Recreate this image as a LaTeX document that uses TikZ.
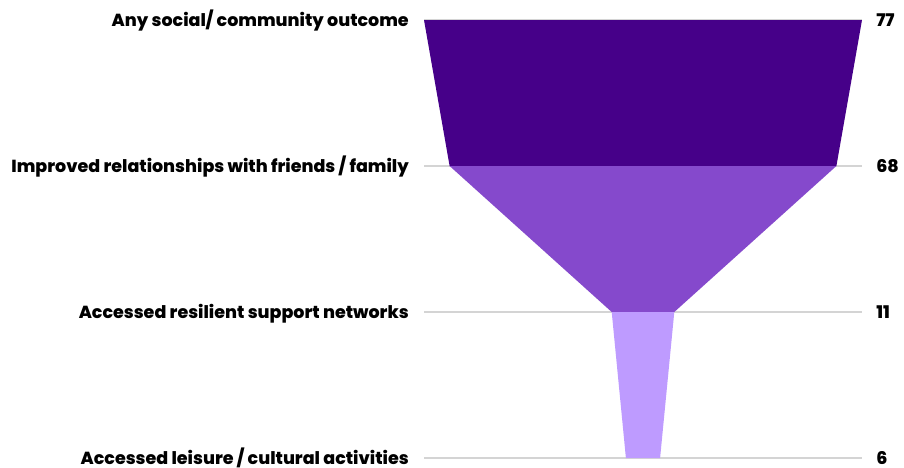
\documentclass[tikz,border=0pt]{standalone}
\usepackage{fontspec}
\setmainfont{Poppins}[BoldFont={Poppins ExtraBold}]
\definecolor{stageA}{RGB}{70,0,137}
\definecolor{stageB}{RGB}{133,73,204}
\definecolor{stageC}{RGB}{190,155,255}
\definecolor{gridgray}{RGB}{212,212,212}
\tikzset{
  lbl/.style={font=\fontsize{13.1}{15}\selectfont\bfseries,anchor=base east,inner sep=0pt},
  val/.style={font=\fontsize{13.1}{15}\selectfont\bfseries,anchor=base west,inner sep=0pt}
}
\begin{document}
\begin{tikzpicture}[x=0.75pt,y=-0.75pt]
\useasboundingbox (0,0) rectangle (904,468);
\foreach \y in {20,166,312,458} % grid lines under the funnel
\draw[gridgray,line width=1.1pt] (424,\y) -- (862,\y);

% funnel stages, half widths 219*v/77 about x=643
\fill[stageA] (424,20) -- (862,20) -- (836.4,166) -- (449.6,166) -- cycle;
\fill[stageB] (449.6,166) -- (836.4,166) -- (674.3,312) -- (611.7,312) -- cycle;
\fill[stageC] (611.7,312) -- (674.3,312) -- (660.1,458) -- (625.9,458) -- cycle;

% labels sit on a baseline 6px under each row
\node[lbl] (lbl1) at (409,26) {Any social/ community outcome};
\node[lbl] (lbl2) at (409,172) {Improved relationships with friends / family};
\node[lbl] (lbl3) at (409,318) {Accessed resilient support networks};
\node[lbl] (lbl4) at (409,464) {Accessed leisure / cultural activities};

\node[val] (val1) at (876,26) {77};
\node[val] (val2) at (876,172) {68};
\node[val] (val3) at (876,318) {11};
\node[val] (val4) at (876,464) {6};
\end{tikzpicture}
\end{document}
